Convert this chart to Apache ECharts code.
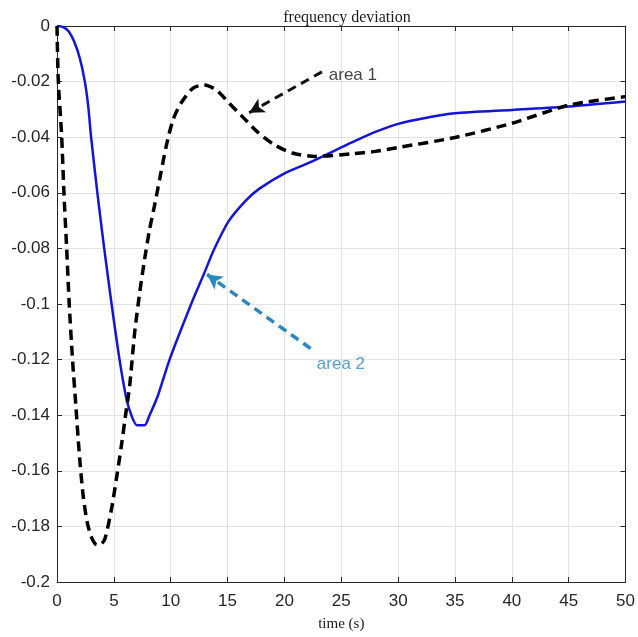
<!DOCTYPE html>
<html><head><meta charset="utf-8">
<script src="https://cdn.jsdelivr.net/npm/echarts@6/dist/echarts.min.js"></script>
<style>html,body{margin:0;padding:0;background:#fff}#c{width:638px;height:637px}</style>
</head><body><div id="c"></div>
<script>
// time (s) and frequency deviation of the solid blue curve
const blueT = [0, 0.5, 1.0, 1.5, 2.0, 2.45, 2.75, 3.0, 3.55, 4.15, 4.8, 5.5, 6.1, 6.54, 7.03, 7.7, 8.14, 8.87, 9.9, 11.8, 12.96, 13.8, 15.1, 16.6, 17.8, 20.05, 22.44, 25.0, 26.5, 28.0, 30.0, 32.5, 35.0, 40.0, 45.0, 50.0];
const blueF = [0, -0.0003, -0.0018, -0.0055, -0.0115, -0.02, -0.029, -0.04, -0.06, -0.08, -0.1, -0.12, -0.134, -0.14, -0.1436, -0.1436, -0.14, -0.133, -0.12, -0.1, -0.0888, -0.0805, -0.0702, -0.0628, -0.0585, -0.0529, -0.0487, -0.0437, -0.0408, -0.0381, -0.0352, -0.033, -0.0314, -0.0302, -0.029, -0.0272];
// time (s) and frequency deviation of the dashed black curve
const blackT = [0, 0.11, 0.41, 0.61, 0.85, 1.08, 1.37, 1.66, 1.95, 2.3, 2.66, 3.04, 3.5, 3.77, 4.2, 4.79, 5.22, 5.66, 6.1, 6.39, 6.83, 7.27, 7.7, 8.14, 8.58, 9.02, 9.6, 10.2, 10.9, 11.94, 12.96, 14.0, 15.15, 16.3, 17.6, 19.1, 20.7, 22.7, 25.9, 28.0, 30.0, 35.0, 40.0, 45.0, 50.0];
const blackF = [0, -0.0194, -0.0397, -0.06, -0.08, -0.1004, -0.1203, -0.1367, -0.1534, -0.169, -0.1786, -0.184, -0.1866, -0.1866, -0.1846, -0.1738, -0.163, -0.151, -0.1379, -0.1295, -0.1103, -0.096, -0.084, -0.0732, -0.0645, -0.0553, -0.0433, -0.0338, -0.0278, -0.0224, -0.0212, -0.023, -0.0278, -0.0326, -0.038, -0.0427, -0.0457, -0.0469, -0.046, -0.0451, -0.0437, -0.0401, -0.035, -0.0285, -0.0254];
// tick labels
const xTicks = [0, 5, 10, 15, 20, 25, 30, 35, 40, 45, 50];
const yTicks = [0, -0.02, -0.04, -0.06, -0.08, -0.1, -0.12, -0.14, -0.16, -0.18, -0.2];
// annotations (data units)
const annoNames = ['area 1', 'area 2'];
const annoTail = [[23.3, -0.0165], [22.3, -0.116]];
const annoTip = [[16.9, -0.0312], [13.2, -0.0894]];
const annoText = [[23.9, -0.0176], [22.85, -0.1217]];

const annoColors = ['#111111', '#2b87c2'];
const zip = (a, b) => a.map((v, i) => [v, b[i]]);
const axisColor = '#262626';
const sans = 'Liberation Sans';
const serif = 'Liberation Serif';

const chart = echarts.init(document.getElementById('c'), null, {renderer: 'canvas'});
const baseX = {
  type: 'value', min: xTicks[0], max: xTicks[xTicks.length - 1], interval: xTicks[1] - xTicks[0],
  axisLine: {show: true, onZero: false, lineStyle: {color: axisColor, width: 1}},
  axisTick: {show: true, inside: true, length: 5, lineStyle: {color: axisColor}}
};
const baseY = {
  type: 'value', min: yTicks[yTicks.length - 1], max: yTicks[0], interval: Math.abs(yTicks[1] - yTicks[0]),
  axisLine: {show: true, onZero: false, lineStyle: {color: axisColor, width: 1}},
  axisTick: {show: true, inside: true, length: 5, lineStyle: {color: axisColor}}
};

chart.setOption({
  animation: false,
  backgroundColor: '#ffffff',
  title: {
    text: 'frequency deviation', left: 342, top: 5, textAlign: 'center',
    textStyle: {fontFamily: serif, fontSize: 16, fontWeight: 'normal', color: '#1a1a1a'}
  },
  grid: {left: 57, right: 10, top: 26, bottom: 54, containLabel: false},
  xAxis: [
    Object.assign({}, baseX, {
      position: 'bottom',
      name: 'time (s)', nameLocation: 'middle', nameGap: 35,
      nameTextStyle: {fontFamily: serif, fontSize: 15, color: '#1a1a1a'},
      axisLabel: {show: true, margin: 11, fontFamily: sans, fontSize: 17, color: axisColor,
        formatter: v => String(xTicks.find(t => Math.abs(t - v) < 1e-9) ?? v)},
      splitLine: {show: true, lineStyle: {color: '#e3e3e3', width: 1}}
    }),
    Object.assign({}, baseX, {position: 'top', axisLabel: {show: false}, splitLine: {show: false}})
  ],
  yAxis: [
    Object.assign({}, baseY, {
      position: 'left',
      axisLabel: {show: true, margin: 7, fontFamily: sans, fontSize: 17, color: axisColor,
        formatter: v => { const t = yTicks.find(t => Math.abs(t - v) < 1e-9); return String(t !== undefined ? t : v); }},
      splitLine: {show: true, lineStyle: {color: '#e3e3e3', width: 1}}
    }),
    Object.assign({}, baseY, {position: 'right', axisLabel: {show: false}, splitLine: {show: false}})
  ],
  series: [
    {
      name: 'blue', type: 'line', xAxisIndex: 0, yAxisIndex: 0,
      data: zip(blueT, blueF), showSymbol: false, symbol: 'none', smooth: 0.25,
      lineStyle: {color: '#1414d6', width: 2.5}, z: 3
    },
    {
      name: 'black', type: 'line', xAxisIndex: 0, yAxisIndex: 0,
      data: zip(blackT, blackF), showSymbol: false, symbol: 'none', smooth: 0.25,
      lineStyle: {color: '#000000', width: 3.5, type: [10, 6]}, z: 4
    },
    {
      name: 'arrows', type: 'line', xAxisIndex: 0, yAxisIndex: 0,
      data: [], showSymbol: false, z: 5,
      markLine: {
        silent: true, animation: false,
        label: {show: false},
        emphasis: {disabled: true},
        data: annoNames.map((n, i) => [
          {coord: annoTail[i], symbol: 'none', symbolSize: 0,
            lineStyle: {color: annoColors[i], width: i === 0 ? 3 : 3.5, type: [9, 6]},
            itemStyle: {color: annoColors[i]}},
          {coord: annoTip[i], symbol: 'arrow', symbolSize: [12, 15], itemStyle: {color: annoColors[i]}}
        ])
      }
    },
    {
      name: 'labels', type: 'scatter', xAxisIndex: 0, yAxisIndex: 0,
      symbolSize: 0, silent: true, z: 6,
      data: annoNames.map((n, i) => ({
        value: annoText[i], name: n,
        label: {show: true, position: 'right', distance: 0, formatter: n,
          fontFamily: sans, fontSize: 17, color: annoColors[i]}
      }))
    }
  ]
});
</script></body></html>
